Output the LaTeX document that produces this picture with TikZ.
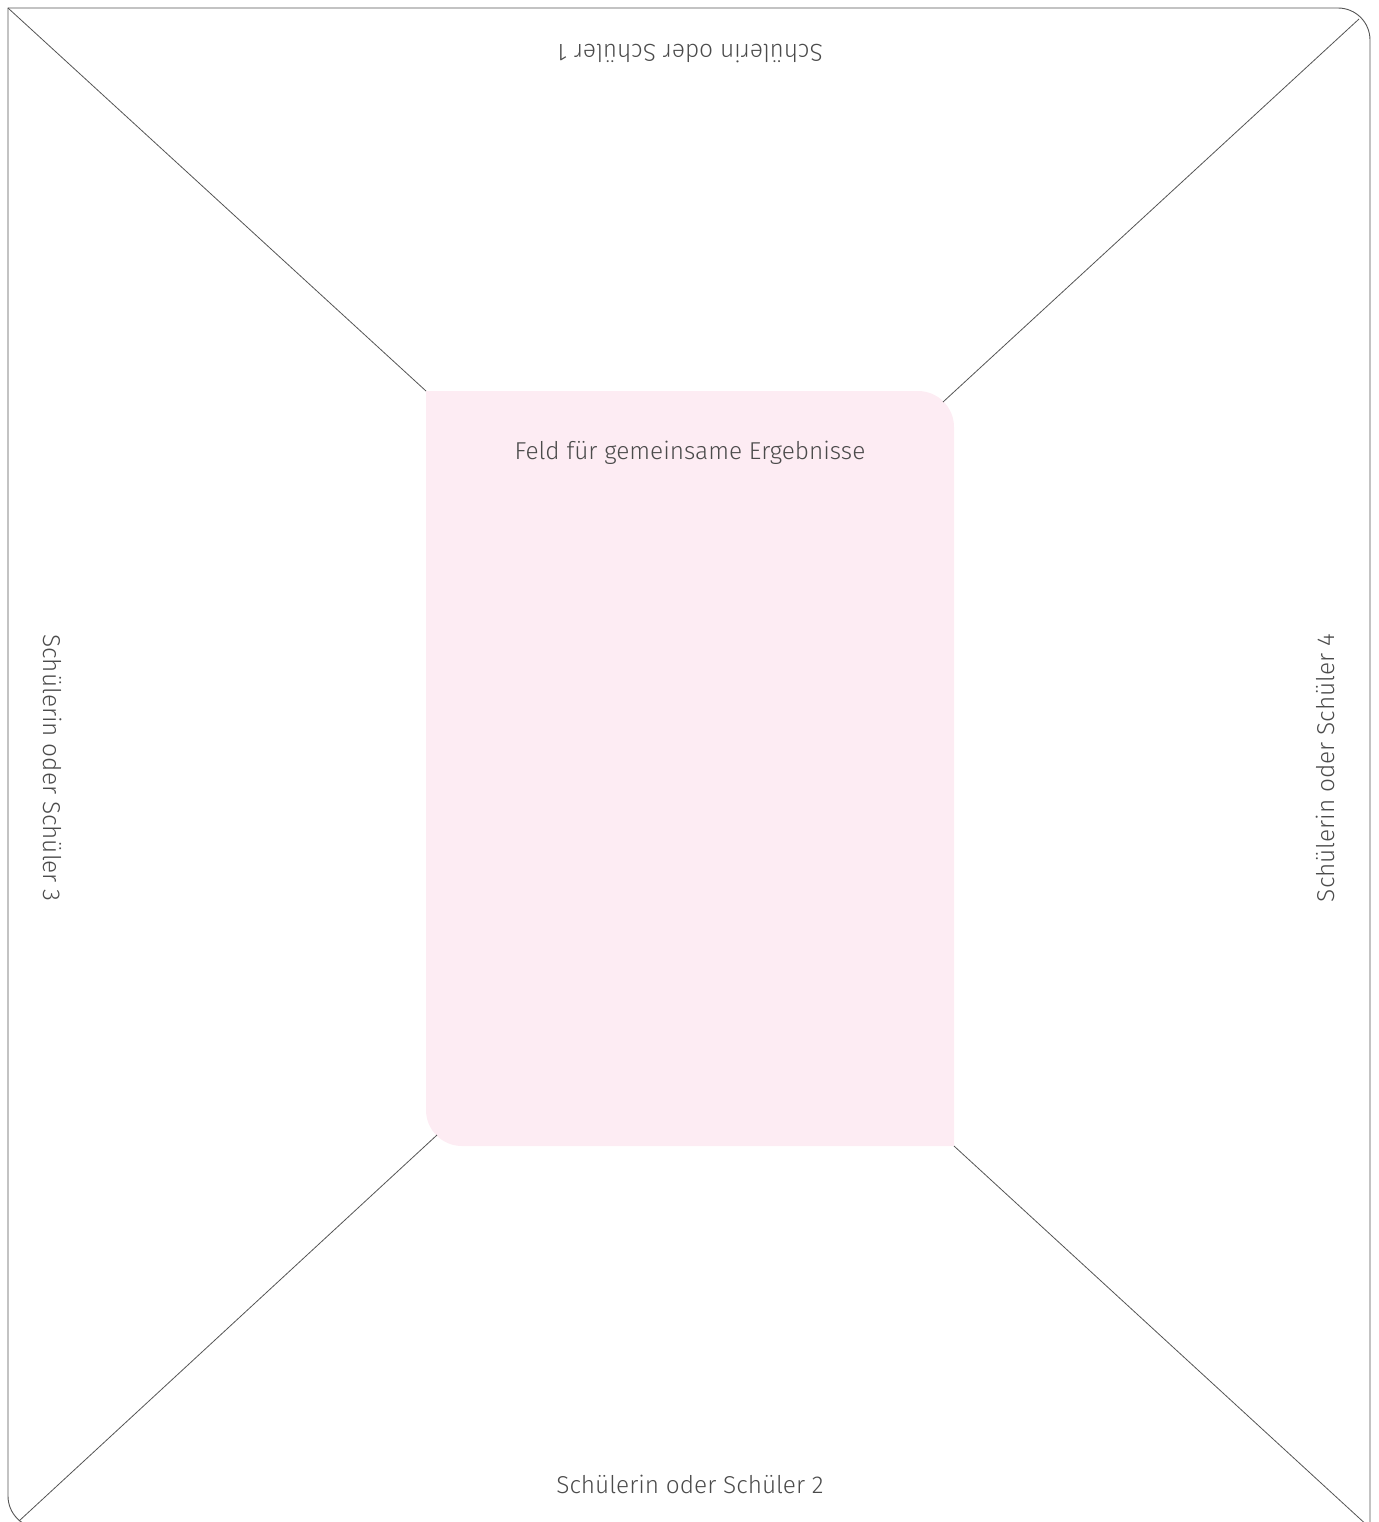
\documentclass[tikz,border=0pt]{standalone}
\usepackage{fontspec}
\setmainfont{Fira Sans}[UprightFont=* Light]
\usetikzlibrary{positioning}
\definecolor{fieldfill}{RGB}{253,236,243}
\definecolor{linegray}{RGB}{85,85,85}
\definecolor{textgray}{RGB}{75,75,75}
\tikzset{
  frame/.style={draw=linegray, line width=0.45pt},
  diag/.style={draw=linegray, line width=0.4pt},
  lbl/.style={font=\fontsize{12.2}{14}\selectfont, text=textgray, inner sep=0pt}
}
\begin{document}
\begin{tikzpicture}[x=0.5pt, y=-0.5pt]
\useasboundingbox (0,0) rectangle (1378,1522);
\clip (0,0) rectangle (1378,1522);
% outer sheet
\draw[frame] (8,700) [rounded corners=16pt] -- (8,1528) [sharp corners] -- (1370,1528) [rounded corners=16pt] -- (1370,8) [sharp corners] -- (8,8) -- cycle;
% shared field
\fill[fieldfill] (426,700) -- (426,391) [rounded corners=18pt] -- (954,391) [sharp corners] -- (954,1146) [rounded corners=18pt] -- (426,1146) [sharp corners] -- cycle;
\coordinate (otl) at (8,8);
\coordinate (otr) at (1359,19);
\coordinate (obl) at (19,1521);
\coordinate (obr) at (1370,1528);
\coordinate (ftl) at (426,391);
\coordinate (ftr) at (943,402);
\coordinate (fbl) at (437,1135);
\coordinate (fbr) at (954,1146);
\draw[diag] (otl) -- (ftl);
\draw[diag] (otr) -- (ftr);
\draw[diag] (obl) -- (fbl);
\draw[diag] (obr) -- (fbr);
% labels
\node[lbl] (feld) at (690,453) {Feld für gemeinsame Ergebnisse};
\node[lbl, rotate=180] (s1) at (690,54) {Schülerin oder Schüler 1};
\node[lbl] (s2) at (690,1484) {Schülerin oder Schüler 2};
\node[lbl, rotate=-90] (s3) at (53,768) {Schülerin oder Schüler 3};
\node[lbl, rotate=90] (s4) at (1325,768) {Schülerin oder Schüler 4};
\end{tikzpicture}
\end{document}
